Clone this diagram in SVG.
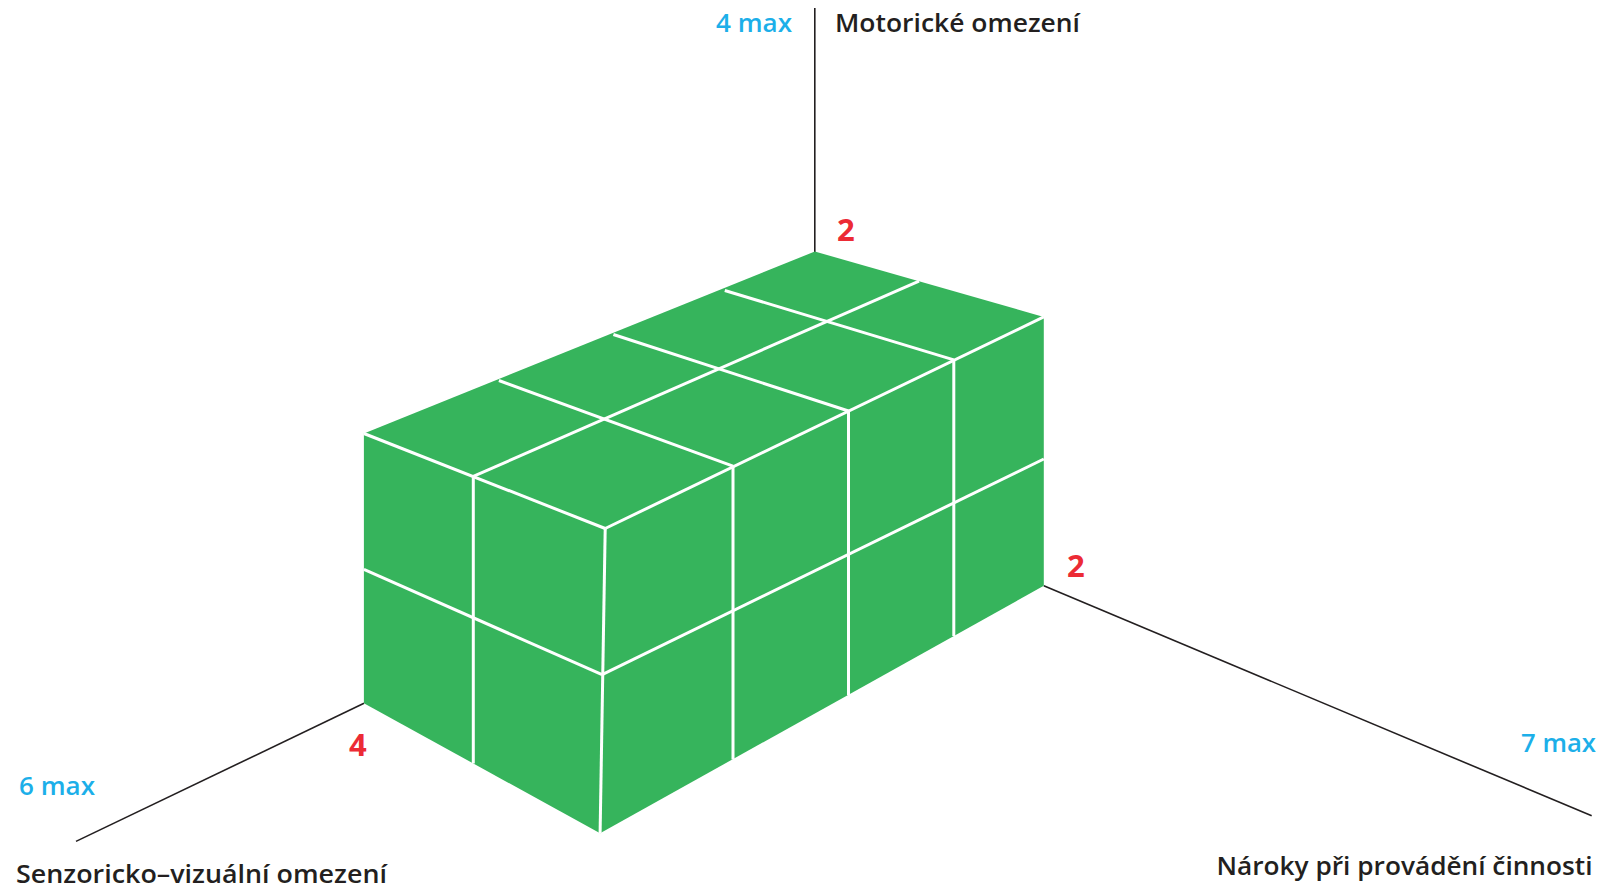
<svg xmlns="http://www.w3.org/2000/svg" width="1603" height="890" viewBox="0 0 1603 890">
<style>
.axis{stroke:#231f20;stroke-width:1.6;fill:none}
.grid{stroke:#ffffff;stroke-width:3;fill:none;stroke-linecap:butt}
.face{fill:#36b45c}
.lbl{font-family:"Open Sans","Noto Sans",sans-serif;font-weight:600;font-size:25px;fill:#231f20}
.max{font-family:"Open Sans","Noto Sans",sans-serif;font-weight:600;font-size:25px;fill:#1cafe9}
.num{font-family:"Open Sans","Noto Sans",sans-serif;font-weight:700;font-size:31px;fill:#ec2b35}
</style>
<rect width="1603" height="890" fill="#ffffff"/>
<g id="connectors">
<line class="axis" x1="814.8" y1="8" x2="814.8" y2="252"/>
<line class="axis" x1="76" y1="841.4" x2="364" y2="703.3"/>
<line class="axis" x1="1043.8" y1="585.8" x2="1591.7" y2="815.8"/>
</g>
<g id="box">
<polygon class="face" points="363.9,433.5 814.8,251.5 1043.8,316.9 1043.8,585.8 600.1,833.2 363.9,703.3"/>
<line class="grid" x1="363.9" y1="433.5" x2="605.2" y2="528.5"/>
<line class="grid" x1="605.2" y1="528.5" x2="1043.8" y2="316.9"/>
<line class="grid" x1="605.2" y1="528.5" x2="600.1" y2="833.2"/>
<line class="grid" x1="473.3" y1="476.4" x2="473.3" y2="763.5"/>
<line class="grid" x1="363.9" y1="569.4" x2="602.1" y2="674.7"/>
<line class="grid" x1="602.1" y1="674.7" x2="1043.8" y2="459"/>
<line class="grid" x1="733" y1="466.2" x2="733" y2="759.6"/>
<line class="grid" x1="848.5" y1="411" x2="848.5" y2="695.2"/>
<line class="grid" x1="953.8" y1="359.9" x2="953.8" y2="635.9"/>
<line class="grid" x1="498.9" y1="380.5" x2="733" y2="466.2"/>
<line class="grid" x1="613.4" y1="334.5" x2="848.5" y2="411"/>
<line class="grid" x1="724.8" y1="290.5" x2="953.8" y2="359.9"/>
<line class="grid" x1="473.3" y1="476.4" x2="919" y2="281.1"/>
</g>
<g id="label-motor">
<text class="max" x="792" y="32" text-anchor="end" textLength="76" lengthAdjust="spacingAndGlyphs">4 max</text>
<text class="lbl" x="835" y="32" textLength="245" lengthAdjust="spacingAndGlyphs">Motorické omezení</text>
<text class="num" x="837" y="241">2</text>
</g>
<g id="label-naroky">
<text class="num" x="1067" y="577">2</text>
<text class="max" x="1596" y="752" text-anchor="end" textLength="75" lengthAdjust="spacingAndGlyphs">7 max</text>
<text class="lbl" x="1216.5" y="875" textLength="376" lengthAdjust="spacingAndGlyphs">Nároky při provádění činnosti</text>
</g>
<g id="label-senzor">
<text class="num" x="349" y="756">4</text>
<text class="max" x="19" y="795" textLength="76" lengthAdjust="spacingAndGlyphs">6 max</text>
<text class="lbl" x="16" y="883" textLength="371" lengthAdjust="spacingAndGlyphs">Senzoricko–vizuální omezení</text>
</g>
</svg>
